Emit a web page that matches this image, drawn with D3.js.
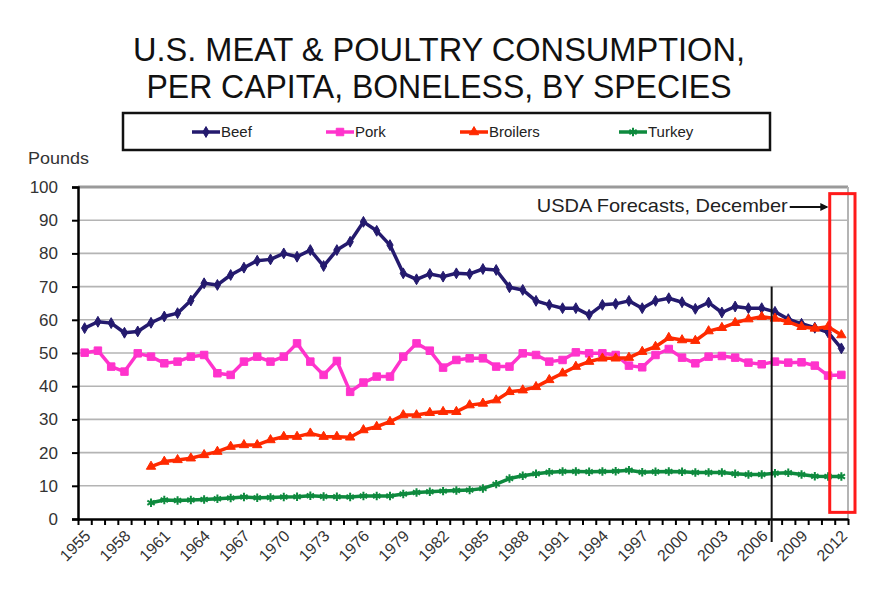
<!DOCTYPE html>
<html>
<head>
<meta charset="utf-8">
<script src="https://cdn.jsdelivr.net/npm/d3@7"></script>
<style>
  body { margin: 0; background: #fff; }
  svg text { font-family: "Liberation Sans", Arial, sans-serif; }
</style>
</head>
<body>
<div id="chart"></div>
<script>
// Per capita boneless consumption, pounds
const years = d3.range(1955, 2013);
const poultryYears = d3.range(1960, 2013);

const beef = [57.5, 59.4, 59, 56.1, 56.5, 59.1, 61, 62, 65.8, 71, 70.5, 73.5, 75.7, 77.8, 78.2, 80, 79, 81, 76.2, 81,
  83.5, 89.5, 86.8, 82.5, 74, 72.2, 73.8, 73, 74, 73.8, 75.3, 75, 69.8, 69, 65.7, 64.5, 63.5, 63.5, 61.5, 64.5,
  64.8, 65.7, 63.5, 65.7, 66.5, 65.3, 63.3, 65.2, 62.2, 64, 63.5, 63.5, 62.4, 60.2, 58.8, 57.6, 56.2, 51.4];
const pork = [50.1, 50.7, 45.9, 44.4, 49.9, 48.9, 46.9, 47.4, 48.9, 49.4, 43.9, 43.4, 47.4, 48.9, 47.4, 48.9, 52.9, 47.4, 43.4, 47.6,
  38.3, 41.1, 42.9, 42.9, 48.9, 52.9, 50.7, 45.6, 47.9, 48.4, 48.4, 45.9, 45.9, 49.9, 49.4, 47.4, 47.9, 50.2, 49.9, 49.9,
  49.4, 46.2, 45.7, 49.4, 51.2, 48.6, 46.9, 48.9, 49.1, 48.6, 47.1, 46.6, 47.4, 47.1, 47.2, 46.2, 43.2, 43.4];
const broilers = [15.8, 17.3, 17.8, 18.3, 19.3, 20.3, 21.8, 22.3, 22.3, 23.8, 24.8, 24.8, 25.8, 24.8, 24.8, 24.6, 26.8, 27.8, 29.3, 31.3,
  31.3, 32, 32.3, 32.3, 34.3, 34.8, 35.8, 38.3, 38.8, 39.8, 41.9, 43.9, 45.9, 47.4, 48.4, 48.4, 48.6, 50.4, 51.9, 54.6,
  53.9, 53.7, 56.6, 57.6, 59.1, 60.2, 60.9, 60.4, 59.4, 57.9, 57.4, 57.9, 55.4];
const turkey = [4.9, 5.7, 5.6, 5.7, 5.9, 6.1, 6.3, 6.6, 6.4, 6.5, 6.6, 6.7, 7.0, 6.8, 6.7, 6.6, 6.9, 6.9, 6.9, 7.5,
  8.0, 8.2, 8.4, 8.6, 8.7, 9.2, 10.5, 12.2, 13.0, 13.6, 14.1, 14.3, 14.3, 14.2, 14.3, 14.4, 14.7, 14.1, 14.2, 14.3,
  14.2, 14.0, 14.0, 14.0, 13.6, 13.4, 13.4, 13.8, 13.9, 13.4, 12.9, 12.8, 12.8];

const yTicks = d3.range(0, 101, 10);
const labelYears = years.filter(y => (y - 1955) % 3 === 0);

const series = [
  { name: "Beef", years: years, values: beef, color: "#241a6e", symbol: d3.symbolDiamond, size: 34, stroke: false },
  { name: "Pork", years: years, values: pork, color: "#ff33cc", symbol: d3.symbolSquare, size: 56, stroke: false },
  { name: "Broilers", years: poultryYears, values: broilers, color: "#ff2a00", symbol: d3.symbolTriangle, size: 38, stroke: false },
  { name: "Turkey", years: poultryYears, values: turkey, color: "#0e8a3e", symbol: d3.symbolAsterisk, size: 50, stroke: true }
];

const W = 895, H = 589;
const plot = { left: 78, right: 848, top: 187, bottom: 519 };

const svg = d3.select("#chart").append("svg")
  .attr("width", W)
  .attr("height", H);

// Title (condensed to the width of the original)
const title = svg.append("g").attr("font-size", 34).attr("fill", "#111").attr("text-anchor", "middle");
title.append("text").attr("x", 439).attr("y", 61)
  .attr("textLength", 612).attr("lengthAdjust", "spacingAndGlyphs")
  .text("U.S. MEAT & POULTRY CONSUMPTION,");
title.append("text").attr("x", 439).attr("y", 98)
  .attr("textLength", 585).attr("lengthAdjust", "spacingAndGlyphs")
  .text("PER CAPITA, BONELESS, BY SPECIES");

// Scales
const x = d3.scaleBand().domain(years).range([plot.left, plot.right]).padding(0);
const xb = d3.scaleLinear().domain([1955, 2013]).range([plot.left, plot.right]);
const y = d3.scaleLinear().domain([0, 100]).range([plot.bottom, plot.top]);
const cx = yr => x(yr) + x.bandwidth() / 2;

// Gridlines
svg.append("g").selectAll("line")
  .data(yTicks.filter(t => t > 0))
  .join("line")
  .attr("x1", plot.left).attr("x2", plot.right)
  .attr("y1", d => y(d)).attr("y2", d => y(d))
  .attr("stroke", d => d === 100 ? "#9a9a9a" : "#b4b4b4")
  .attr("stroke-width", d => d === 100 ? 3 : 1.6);

svg.append("line")
  .attr("x1", plot.right).attr("x2", plot.right)
  .attr("y1", plot.top).attr("y2", plot.bottom)
  .attr("stroke", "#b4b4b4").attr("stroke-width", 2);

// Y axis
const yAxis = svg.append("g")
  .attr("transform", `translate(${plot.left},0)`)
  .call(d3.axisLeft(y).tickValues(yTicks).tickSize(6).tickPadding(14));
yAxis.select(".domain").attr("stroke", "#000").attr("stroke-width", 2.5);
yAxis.selectAll(".tick line").attr("stroke", "#000").attr("stroke-width", 2);
yAxis.selectAll("text").attr("font-size", 17).attr("fill", "#333")
  .style("font-family", "'Liberation Sans', Arial, sans-serif");

svg.append("text").attr("x", 28).attr("y", 164)
  .attr("font-size", 17).attr("fill", "#333")
  .attr("textLength", 61).attr("lengthAdjust", "spacingAndGlyphs")
  .text("Pounds");

// X axis (ticks between categories)
const xAxis = svg.append("g")
  .attr("transform", `translate(0,${plot.bottom})`)
  .call(d3.axisBottom(xb).tickValues(d3.range(1955, 2014)).tickFormat("").tickSize(6).tickSizeOuter(0));
xAxis.select(".domain").attr("stroke", "#000").attr("stroke-width", 2.5);
xAxis.selectAll(".tick line").attr("stroke", "#000").attr("stroke-width", 2);

svg.append("g").selectAll("text")
  .data(labelYears)
  .join("text")
  .attr("transform", d => `translate(${cx(d) + 3},${plot.bottom + 14}) rotate(-45)`)
  .attr("text-anchor", "end")
  .attr("dy", "0.35em")
  .attr("font-size", 16)
  .attr("fill", "#333")
  .text(d => d);

// Lines and markers
const line = d3.line().x(d => cx(d[0])).y(d => y(d[1]));

series.forEach(s => {
  const pts = s.years.map((yr, i) => [yr, s.values[i]]);
  svg.append("path")
    .datum(pts)
    .attr("fill", "none")
    .attr("stroke", s.color)
    .attr("stroke-width", 3.5)
    .attr("stroke-linejoin", "round")
    .attr("d", line);
  const sym = d3.symbol().type(s.symbol).size(s.size);
  svg.append("g").selectAll("path")
    .data(pts)
    .join("path")
    .attr("transform", d => `translate(${cx(d[0])},${y(d[1])})`)
    .attr("d", sym)
    .attr("fill", s.stroke ? "none" : s.color)
    .attr("stroke", s.color)
    .attr("stroke-width", s.stroke ? 2 : 1);
});

// 2007 separator line
const sepX = x(2007) + x.bandwidth() * 0.25;
svg.append("line")
  .attr("x1", sepX).attr("x2", sepX)
  .attr("y1", y(70)).attr("y2", plot.bottom + 23)
  .attr("stroke", "#111").attr("stroke-width", 2);

// Forecast box
svg.append("rect")
  .attr("x", x(2012) - 5)
  .attr("y", y(98))
  .attr("width", x.bandwidth() + 12)
  .attr("height", y(2) - y(98))
  .attr("fill", "none")
  .attr("stroke", "#ff1a1a")
  .attr("stroke-width", 3);

svg.append("text")
  .attr("x", x(2012) - 47).attr("y", 212)
  .attr("text-anchor", "end")
  .attr("font-size", 19).attr("fill", "#222")
  .attr("textLength", 251).attr("lengthAdjust", "spacingAndGlyphs")
  .text("USDA Forecasts, December");

svg.append("defs").append("marker")
  .attr("id", "arrow")
  .attr("viewBox", "0 0 10 10")
  .attr("refX", 8).attr("refY", 5)
  .attr("markerWidth", 4).attr("markerHeight", 4)
  .attr("orient", "auto")
  .append("path").attr("d", "M0,0 L10,5 L0,10 z").attr("fill", "#111");

svg.append("line")
  .attr("x1", x(2012) - 45).attr("x2", x(2012) - 8)
  .attr("y1", 207).attr("y2", 207)
  .attr("stroke", "#111").attr("stroke-width", 2)
  .attr("marker-end", "url(#arrow)");

// Legend
const legend = svg.append("g");
legend.append("rect")
  .attr("x", 123).attr("y", 113)
  .attr("width", 647).attr("height", 37)
  .attr("fill", "#fff").attr("stroke", "#111").attr("stroke-width", 2.5);

const legendX = [192, 326, 460, 619];
series.forEach((s, i) => {
  const g = legend.append("g").attr("transform", `translate(${legendX[i]},132)`);
  g.append("line").attr("x1", 0).attr("x2", 28).attr("stroke", s.color).attr("stroke-width", 3.5);
  g.append("path")
    .attr("transform", "translate(14,0)")
    .attr("d", d3.symbol().type(s.symbol).size(s.size)())
    .attr("fill", s.stroke ? "none" : s.color)
    .attr("stroke", s.color)
    .attr("stroke-width", s.stroke ? 2 : 1);
  g.append("text").attr("x", 29).attr("dy", "0.35em")
    .attr("font-size", 15).attr("fill", "#222")
    .text(s.name);
});
</script>
</body>
</html>
